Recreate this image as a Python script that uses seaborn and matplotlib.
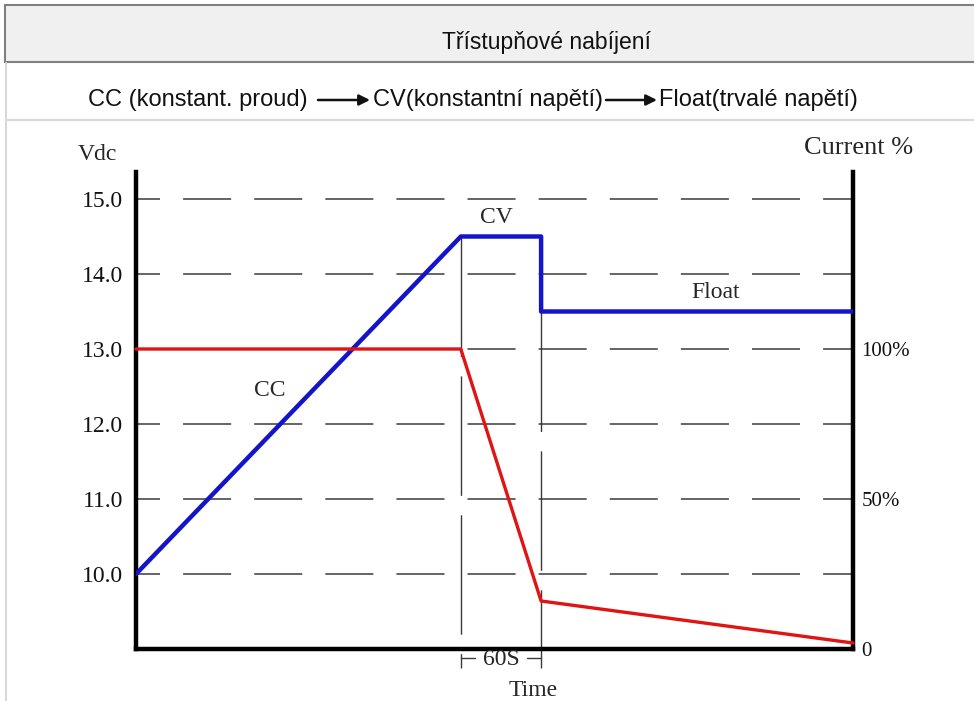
import matplotlib
matplotlib.use("Agg")
import matplotlib.pyplot as plt
from matplotlib.patches import Rectangle
from matplotlib.lines import Line2D
import seaborn as sns

# cas v libovolnych jednotkach (0..100), faze CV trva 60 s
cas_napeti = [0, 45.3, 56.5, 56.5, 100]
napeti = [10.0, 14.5, 14.5, 13.5, 13.5]          # Vdc
cas_proud = [0, 45.3, 56.5, 100]
proud = [100, 100, 16, 2]                          # Current %
napeti_ticks = [10.0, 11.0, 12.0, 13.0, 14.0, 15.0]
proud_ticks = [0, 50, 100]
proud_labels = ["0", "50%", "100%"]
hranice_cv = [45.3, 56.5]

W, H = 974, 701

def fx(px):
    return px / W

def fy(py):
    return 1 - py / H

sns.set_theme(style="white")
plt.rcParams["lines.scale_dashes"] = False
plt.rcParams["font.family"] = ["Liberation Serif", "DejaVu Serif"]

fig = plt.figure(figsize=(W / 100, H / 100), dpi=100)
fig.patch.set_facecolor("white")

# ---- hlavicka (tabulka) ----
fig.add_artist(Rectangle((fx(5), fy(62)), 1.0, (62 - 5) / H, transform=fig.transFigure,
                         facecolor="#f0f0f0", edgecolor="#808080", lw=1.5))
fig.add_artist(Line2D([fx(6), 1.0], [fy(120), fy(120)], transform=fig.transFigure,
                      color="#d9d9d9", lw=1.5))
fig.add_artist(Line2D([fx(6), fx(6)], [fy(63), 0], transform=fig.transFigure,
                      color="#d9d9d9", lw=1.5))

sans = ["Liberation Sans", "DejaVu Sans"]
fig.text(fx(442), fy(42), "Třístupňové nabíjení", ha="left", va="center",
         family=sans, fontsize=16.5, color="#111111")
fig.text(fx(88), fy(100), "CC (konstant. proud)", ha="left", va="center",
         family=sans, fontsize=17, color="#111111")
fig.text(fx(373), fy(100), "CV(konstantní napětí)", ha="left", va="center",
         family=sans, fontsize=17, color="#111111")
fig.text(fx(659), fy(100), "Float(trvalé napětí)", ha="left", va="center",
         family=sans, fontsize=17, color="#111111")

# ---- graf ----
ax = fig.add_axes([fx(136), 1 - 649 / H, 717 / W, (649 - 172) / H])
ax.set_xlim(0, 100)
ax.set_ylim(9.0, 15.36)

grid_dash = (17.3, (34.6, 16.6))
for v in napeti_ticks:
    ax.axhline(v, color="#3a3a3a", lw=1.1, linestyle=grid_dash, zorder=1)

for t, top in zip(hranice_cv, [14.5, 13.5]):
    ax.plot([t, t], [top, 8.747], color="#3a3a3a", lw=1.0,
            linestyle=(0, (86, 14)), clip_on=False, zorder=1)

sns.lineplot(x=cas_napeti, y=napeti, ax=ax, color="#1414c8", lw=3.2,
             sort=False, estimator=None, zorder=4)

ax.set_yticks(napeti_ticks)
ax.set_yticklabels([f"{v:.1f}" for v in napeti_ticks])
ax.set_xticks([])
ax.tick_params(axis="y", length=0, pad=9, labelsize=17, colors="#111111")
for s in ["left", "right", "bottom"]:
    ax.spines[s].set_color("black")
    ax.spines[s].set_linewidth(3.2)
ax.spines["top"].set_visible(False)
ax.set_xlabel("")
ax.set_ylabel("")

ax2 = ax.twinx()
ax2.set_ylim(0, (15.36 - 9.0) * 25)
sns.lineplot(x=cas_proud, y=proud, ax=ax2, color="#e01414", lw=2.4,
             sort=False, estimator=None, zorder=3)
for line in ax2.lines:
    line.set_clip_on(False)
ax2.set_yticks(proud_ticks)
ax2.set_yticklabels(proud_labels)
ax2.tick_params(axis="y", length=0, pad=6, labelsize=15, colors="#111111")
for s in ax2.spines.values():
    s.set_visible(False)
ax2.set_ylabel("")

# popisky
ax.text(18.7, 12.45, "CC", ha="center", va="center", fontsize=17)
ax.text(50.3, 14.75, "CV", ha="center", va="center", fontsize=17)
ax.text(80.8, 13.76, "Float", ha="center", va="center", fontsize=17)
ax.text(-5.4, 15.59, "Vdc", ha="center", va="center", fontsize=17)
ax.text(100.8, 15.68, "Current %", ha="center", va="center", fontsize=19)

# zavorka 60S
ax.plot([45.3, 47.3], [8.88, 8.88], color="#3a3a3a", lw=1.0, clip_on=False)
ax.plot([54.6, 56.5], [8.88, 8.88], color="#3a3a3a", lw=1.0, clip_on=False)
ax.text(50.9, 8.86, "60S", ha="center", va="center", fontsize=17)
ax.text(55.4, 8.45, "Time", ha="center", va="center", fontsize=17)

# sipky v podtitulku
for x0, x1 in [(318, 370), (606, 657)]:
    ax.annotate("", xy=(x1, H - 100), xytext=(x0, H - 100), xycoords="figure pixels",
                textcoords="figure pixels",
                arrowprops=dict(arrowstyle="-|>", lw=1.8, color="#111111",
                                mutation_scale=16, shrinkA=0, shrinkB=0))

fig.savefig("out.png", dpi=100)
